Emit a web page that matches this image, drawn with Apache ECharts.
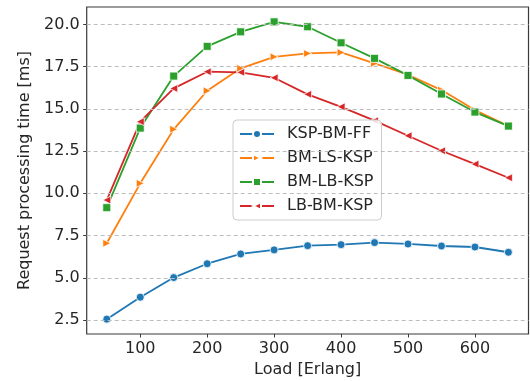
<!DOCTYPE html>
<html>
<head>
<meta charset="utf-8">
<script src="https://cdn.jsdelivr.net/npm/echarts@6/dist/echarts.min.js"></script>
<style>
  html, body { margin: 0; padding: 0; background: #fff; }
  #chart { width: 530px; height: 381px; }
</style>
</head>
<body>
<div id="chart"></div>
<script>
// Offered load (Erlang)
const loads = [50, 100, 150, 200, 250, 300, 350, 400, 450, 500, 550, 600, 650];

// Mean request processing time [ms] per algorithm
const kspBmFf = [2.55, 3.85, 5.01, 5.83, 6.41, 6.65, 6.90, 6.96, 7.08, 7.00, 6.88, 6.82, 6.51];
const bmLsKsp = [7.04, 10.59, 13.79, 16.07, 17.40, 18.08, 18.28, 18.34, 17.69, 17.02, 16.11, 14.93, 13.98];
const bmLbKsp = [9.15, 13.86, 16.94, 18.70, 19.56, 20.15, 19.86, 18.91, 17.99, 16.98, 15.88, 14.81, 13.98];
const lbBmKsp = [9.60, 14.24, 16.21, 17.20, 17.16, 16.84, 15.86, 15.12, 14.30, 13.41, 12.52, 11.73, 10.92];

// Axis ticks
const xTicks = [100, 200, 300, 400, 500, 600];
const yTicks = [2.5, 5.0, 7.5, 10.0, 12.5, 15.0, 17.5, 20.0];

const FONT = 'DejaVu Sans';
const chart = echarts.init(document.getElementById('chart'), null, { renderer: 'canvas' });

function pairs(vals) { return loads.map((x, i) => [x, vals[i]]); }

function lineSeries(name, vals, color, symbol, rotate, size) {
  return {
    name: name,
    type: 'line',
    data: pairs(vals),
    symbol: symbol,
    symbolSize: size,
    symbolRotate: rotate,
    showAllSymbol: true,
    lineStyle: { color: color, width: 1.8 },
    itemStyle: { color: color, borderColor: '#fff', borderWidth: 0.8 },
    emphasis: { disabled: true },
    animation: false
  };
}

// Dashed horizontal guides at the y tick values
const gridGuides = {
  type: 'line',
  data: [],
  silent: true,
  markLine: {
    silent: true,
    symbol: 'none',
    label: { show: false },
    lineStyle: { color: '#bdbdbd', type: [4, 3], width: 1 },
    data: yTicks.map(v => ({ yAxis: v })),
    animation: false
  }
};

chart.setOption({
  backgroundColor: '#fff',
  animation: false,
  textStyle: { fontFamily: FONT },
  grid: {
    left: 86.7, right: 1.5, top: 7, bottom: 47,
    outerBoundsMode: 'none',
    containLabel: false,
    show: true, borderColor: '#3a3a3a', borderWidth: 1.2, backgroundColor: 'transparent'
  },
  xAxis: {
    type: 'value',
    min: 20, max: 680,
    name: 'Load [Erlang]',
    nameLocation: 'middle',
    nameGap: 28,
    nameTextStyle: { fontFamily: FONT, fontSize: 16, color: '#262626' },
    axisLine: { show: false },
    axisTick: { show: true, customValues: xTicks, length: 3.5, lineStyle: { color: '#3a3a3a', width: 1 } },
    axisLabel: { customValues: xTicks, fontFamily: FONT, fontSize: 16, color: '#262626', margin: 7 },
    splitLine: { show: false }
  },
  yAxis: {
    type: 'value',
    min: 1.67, max: 21.03,
    name: 'Request processing time [ms]',
    nameLocation: 'middle',
    nameGap: 50,
    nameRotate: 90,
    nameTextStyle: { fontFamily: FONT, fontSize: 16, color: '#262626' },
    axisLine: { show: false },
    axisTick: { show: true, customValues: yTicks, length: 3.5, lineStyle: { color: '#3a3a3a', width: 1 } },
    axisLabel: {
      customValues: yTicks, fontFamily: FONT, fontSize: 16, color: '#262626', margin: 7,
      formatter: v => v.toFixed(1)
    },
    splitLine: { show: false }
  },
  legend: {
    orient: 'vertical',
    left: 233, top: 120,
    padding: [6, 8, 6, 6],
    itemWidth: 34, itemHeight: 10,
    itemGap: 8,
    backgroundColor: 'rgba(255,255,255,0.85)',
    borderColor: '#cccccc', borderWidth: 1, borderRadius: 4,
    textStyle: { fontFamily: FONT, fontSize: 16, color: '#262626', lineHeight: 16, padding: [0, 0, 0, 8] },
    data: ['KSP-BM-FF', 'BM-LS-KSP', 'BM-LB-KSP', 'LB-BM-KSP']
  },
  series: [
    gridGuides,
    lineSeries('KSP-BM-FF', kspBmFf, '#1f77b4', 'circle', 0, 8),
    lineSeries('BM-LS-KSP', bmLsKsp, '#ff7f0e', 'triangle', -90, 8),
    lineSeries('BM-LB-KSP', bmLbKsp, '#2ca02c', 'rect', 0, 8),
    lineSeries('LB-BM-KSP', lbBmKsp, '#d62728', 'triangle', 90, 8)
  ]
});
</script>
</body>
</html>
